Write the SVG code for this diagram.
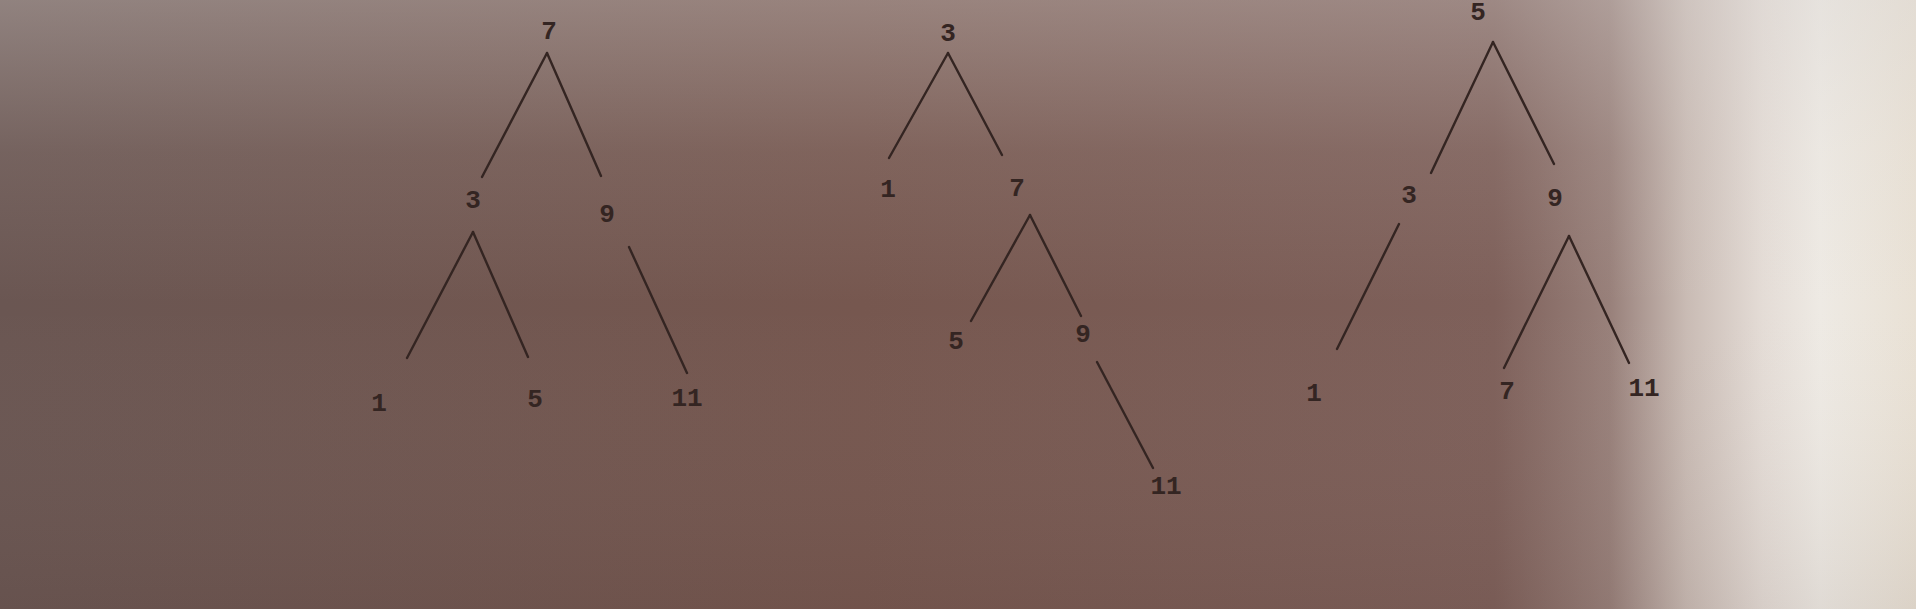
<svg xmlns="http://www.w3.org/2000/svg" width="1916" height="609" viewBox="0 0 1916 609">
  <defs>
    <linearGradient id="bgH" x1="0" y1="0" x2="1" y2="0">
      <stop offset="0" stop-color="#6a5652"/>
      <stop offset="0.45" stop-color="#76574f"/>
      <stop offset="0.78" stop-color="#7e605a"/>
      <stop offset="0.84" stop-color="#98807a"/>
      <stop offset="0.88" stop-color="#c9bbb4"/>
      <stop offset="0.92" stop-color="#e4dcd6"/>
      <stop offset="0.95" stop-color="#eeeae4"/>
      <stop offset="1" stop-color="#e9e1d5"/>
    </linearGradient>
    <linearGradient id="bgV" x1="0" y1="0" x2="0" y2="1">
      <stop offset="0" stop-color="#d8d4d2" stop-opacity="0.35"/>
      <stop offset="0.25" stop-color="#d8d4d2" stop-opacity="0.1"/>
      <stop offset="0.5" stop-color="#d8d4d2" stop-opacity="0"/>
      <stop offset="1" stop-color="#3a2420" stop-opacity="0.08"/>
    </linearGradient>
    <style>
      .lbl { font-family: "Liberation Mono", "DejaVu Sans Mono", monospace; font-size: 26px; font-weight: bold; fill: #342522; text-anchor: middle; }
      .edge { stroke: #342522; stroke-width: 2.4; fill: none; stroke-linecap: round; }
    </style>
  </defs>
  <rect x="0" y="0" width="1916" height="609" fill="url(#bgH)"/>
  <rect x="0" y="0" width="1916" height="609" fill="url(#bgV)"/>

  <g id="connectors">
    <!-- tree 1 -->
    <line class="edge" x1="547" y1="53" x2="482" y2="177"/>
    <line class="edge" x1="547" y1="53" x2="601" y2="176"/>
    <line class="edge" x1="473" y1="232" x2="407" y2="358"/>
    <line class="edge" x1="473" y1="232" x2="528" y2="357"/>
    <line class="edge" x1="629" y1="247" x2="687" y2="373"/>
    <!-- tree 2 -->
    <line class="edge" x1="948" y1="53" x2="889" y2="158"/>
    <line class="edge" x1="948" y1="53" x2="1002" y2="155"/>
    <line class="edge" x1="1030" y1="215" x2="971" y2="321"/>
    <line class="edge" x1="1030" y1="215" x2="1081" y2="316"/>
    <line class="edge" x1="1097" y1="362" x2="1153" y2="468"/>
    <!-- tree 3 -->
    <line class="edge" x1="1493" y1="42" x2="1431" y2="173"/>
    <line class="edge" x1="1493" y1="42" x2="1554" y2="164"/>
    <line class="edge" x1="1399" y1="224" x2="1337" y2="349"/>
    <line class="edge" x1="1569" y1="236" x2="1504" y2="368"/>
    <line class="edge" x1="1569" y1="236" x2="1629" y2="363"/>
  </g>

  <!-- tree 1 -->
  <g id="t1-n7"><text class="lbl" x="549" y="39">7</text></g>
  <g id="t1-n3"><text class="lbl" x="473" y="208">3</text></g>
  <g id="t1-n9"><text class="lbl" x="607" y="222">9</text></g>
  <g id="t1-n1"><text class="lbl" x="379" y="411">1</text></g>
  <g id="t1-n5"><text class="lbl" x="535" y="407">5</text></g>
  <g id="t1-n11"><text class="lbl" x="687" y="406">11</text></g>

  <!-- tree 2 -->
  <g id="t2-n3"><text class="lbl" x="948" y="41">3</text></g>
  <g id="t2-n1"><text class="lbl" x="888" y="197">1</text></g>
  <g id="t2-n7"><text class="lbl" x="1017" y="196">7</text></g>
  <g id="t2-n5"><text class="lbl" x="956" y="349">5</text></g>
  <g id="t2-n9"><text class="lbl" x="1083" y="342">9</text></g>
  <g id="t2-n11"><text class="lbl" x="1166" y="494">11</text></g>

  <!-- tree 3 -->
  <g id="t3-n5"><text class="lbl" x="1478" y="20">5</text></g>
  <g id="t3-n3"><text class="lbl" x="1409" y="203">3</text></g>
  <g id="t3-n9"><text class="lbl" x="1555" y="206">9</text></g>
  <g id="t3-n1"><text class="lbl" x="1314" y="401">1</text></g>
  <g id="t3-n7"><text class="lbl" x="1507" y="399">7</text></g>
  <g id="t3-n11"><text class="lbl" x="1644" y="396">11</text></g>
</svg>
